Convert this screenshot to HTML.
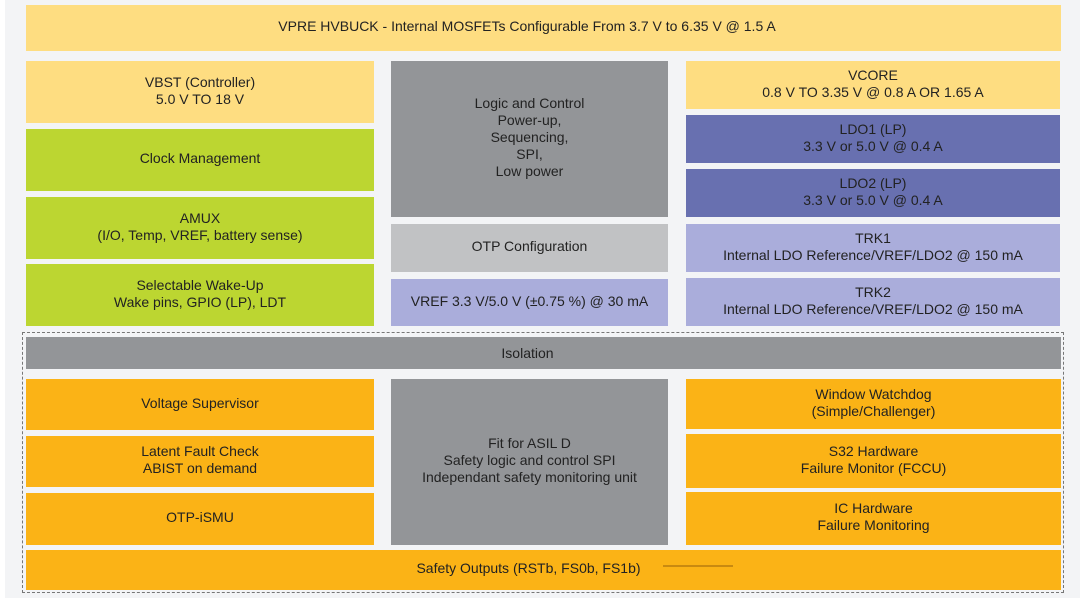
<!DOCTYPE html>
<html><head><meta charset="utf-8"><style>
html,body{margin:0;padding:0}
body{width:1080px;height:598px;background:#f3f4f6;position:relative;overflow:hidden;font-family:"Liberation Sans",sans-serif;font-size:14px;color:#222}
.b{position:absolute;display:flex;align-items:center;justify-content:center;text-align:center;line-height:17px;box-sizing:border-box;padding-bottom:3px}
.y{background:#fedd81}.g{background:#bcd631}.gr{background:#939598}.lg{background:#c1c2c4}
.lv{background:#aaaddb}.dv{background:#6870b0}.o{background:#fbb316}
</style></head><body>
<div style="position:absolute;left:0;top:0;width:5px;height:598px;background:#fff"></div>
<div class="b y" style="left:26px;top:5px;width:1035px;height:46px;padding-right:33px">VPRE HVBUCK - Internal MOSFETs Configurable From 3.7 V to 6.35 V @ 1.5 A</div>

<div class="b y" style="left:26px;top:61px;width:348px;height:62px">VBST (Controller)<br>5.0 V TO 18 V</div>
<div class="b g" style="left:26px;top:129px;width:348px;height:62px">Clock Management</div>
<div class="b g" style="left:26px;top:197px;width:348px;height:62px">AMUX<br>(I/O, Temp, VREF, battery sense)</div>
<div class="b g" style="left:26px;top:264px;width:348px;height:62px">Selectable Wake-Up<br>Wake pins, GPIO (LP), LDT</div>

<div class="b gr" style="left:391px;top:61px;width:277px;height:156px">Logic and Control<br>Power-up,<br>Sequencing,<br>SPI,<br>Low power</div>
<div class="b lg" style="left:391px;top:224px;width:277px;height:48px">OTP Configuration</div>
<div class="b lv" style="left:391px;top:279px;width:277px;height:47px">VREF 3.3 V/5.0 V (±0.75 %) @ 30 mA</div>

<div class="b y" style="left:686px;top:61px;width:374px;height:48px">VCORE<br>0.8 V TO 3.35 V @ 0.8 A OR 1.65 A</div>
<div class="b dv" style="left:686px;top:115px;width:374px;height:48px">LDO1 (LP)<br>3.3 V or 5.0 V @ 0.4 A</div>
<div class="b dv" style="left:686px;top:169px;width:374px;height:48px">LDO2 (LP)<br>3.3 V or 5.0 V @ 0.4 A</div>
<div class="b lv" style="left:686px;top:224px;width:374px;height:48px">TRK1<br>Internal LDO Reference/VREF/LDO2 @ 150 mA</div>
<div class="b lv" style="left:686px;top:278px;width:374px;height:48px">TRK2<br>Internal LDO Reference/VREF/LDO2 @ 150 mA</div>

<div style="position:absolute;left:22px;top:332px;width:1040px;height:259px;border:1px dashed #777"></div>
<div class="b gr" style="left:26px;top:337px;width:1035px;height:32px;padding-right:32px;padding-bottom:0">Isolation</div>

<div class="b o" style="left:26px;top:379px;width:348px;height:51px">Voltage Supervisor</div>
<div class="b o" style="left:26px;top:436px;width:348px;height:51px">Latent Fault Check<br>ABIST on demand</div>
<div class="b o" style="left:26px;top:493px;width:348px;height:52px">OTP-iSMU</div>

<div class="b gr" style="left:391px;top:379px;width:277px;height:166px">Fit for ASIL D<br>Safety logic and control SPI<br>Independant safety monitoring unit</div>

<div class="b o" style="left:686px;top:379px;width:375px;height:50px">Window Watchdog<br>(Simple/Challenger)</div>
<div class="b o" style="left:686px;top:434px;width:375px;height:54px">S32 Hardware<br>Failure Monitor (FCCU)</div>
<div class="b o" style="left:686px;top:492px;width:375px;height:53px">IC Hardware<br>Failure Monitoring</div>

<div class="b o" style="left:26px;top:550px;width:1035px;height:40px;padding-right:30px">Safety Outputs (RSTb, FS0b, FS1b)</div>
<div style="position:absolute;left:663px;top:565px;width:70px;height:2px;background:#c98a10"></div>
<div style="position:absolute;left:657px;top:546px;width:77px;height:3px;background:#f3f4f6"></div>
</body></html>
